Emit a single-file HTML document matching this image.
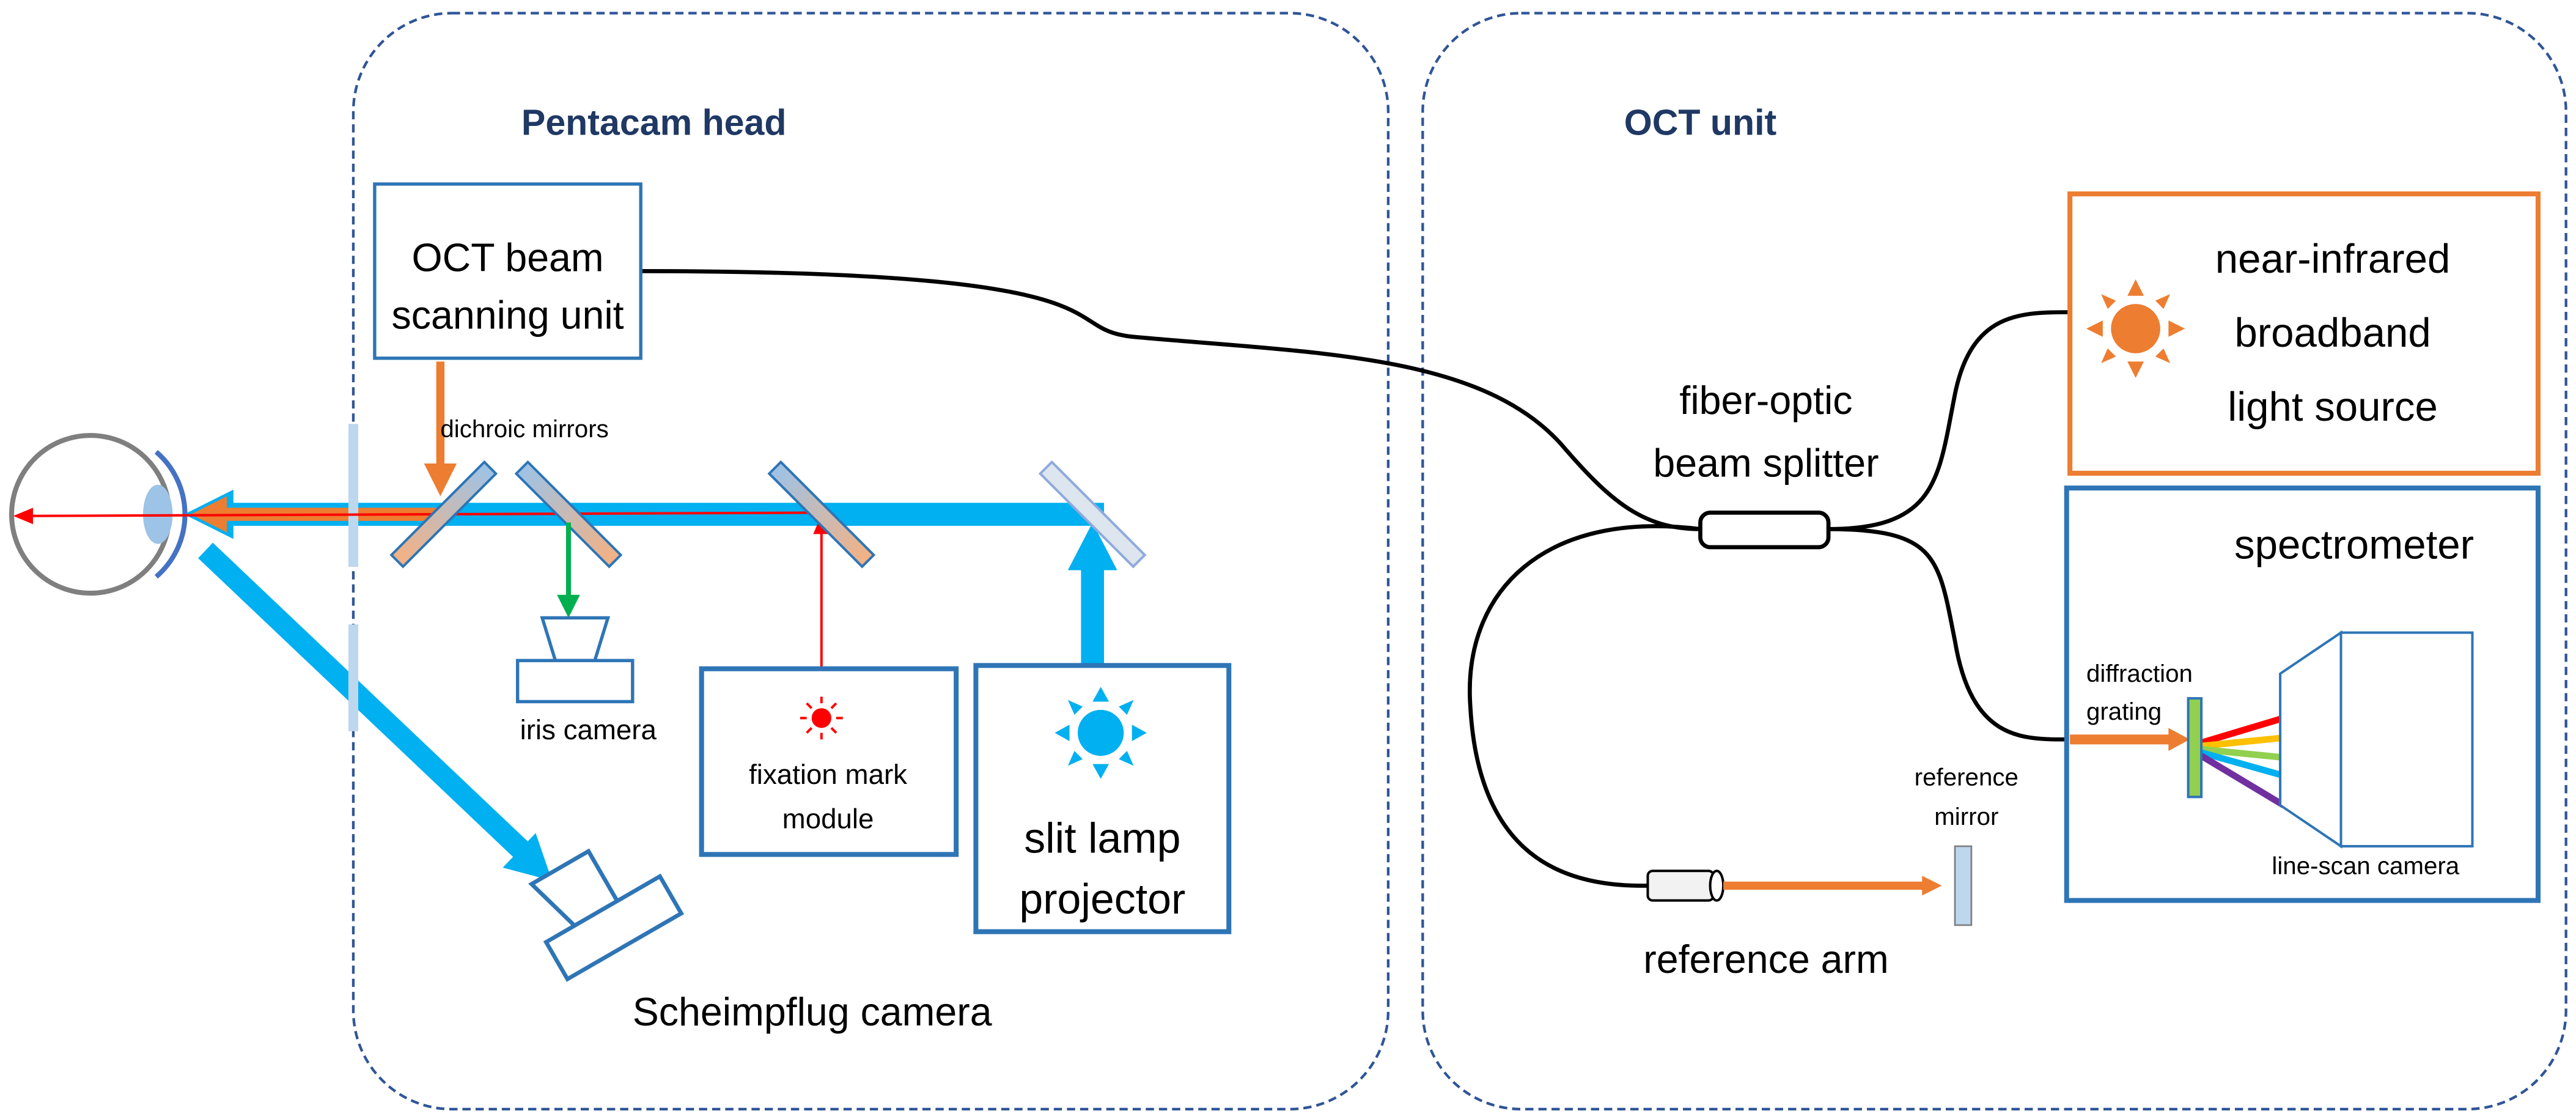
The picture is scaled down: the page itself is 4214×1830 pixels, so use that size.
<!DOCTYPE html>
<html><head><meta charset="utf-8"><style>html,body{margin:0;padding:0;background:#fff}svg{display:block}</style></head>
<body>
<svg width="4214" height="1830" viewBox="0 0 1568 681" xmlns="http://www.w3.org/2000/svg" font-family="Liberation Sans, sans-serif">
<defs>
<linearGradient id="dm" x1="0" y1="0" x2="1" y2="0"><stop offset="0" stop-color="#9DC3E6"/><stop offset="1" stop-color="#F4B183"/></linearGradient>
<linearGradient id="dm2" x1="0" y1="0" x2="1" y2="0"><stop offset="0" stop-color="#F4B183"/><stop offset="1" stop-color="#9DC3E6"/></linearGradient>
<marker id="ob" markerWidth="4" markerHeight="4" refX="2" refY="2" orient="auto" markerUnits="strokeWidth"><path d="M0,0 L4,2 L0,4z" fill="#ED7D31"/></marker>
</defs>
<rect x="215" y="8" width="630" height="667" rx="60" fill="none" stroke="#2F5597" stroke-width="1.6" stroke-dasharray="5,3"/>
<rect x="866" y="8" width="696" height="667" rx="60" fill="none" stroke="#2F5597" stroke-width="1.6" stroke-dasharray="5,3"/>
<text x="398" y="82" font-size="22" font-weight="bold" fill="#1F3864" text-anchor="middle">Pentacam head</text>
<text x="1035" y="82" font-size="22" font-weight="bold" fill="#1F3864" text-anchor="middle">OCT unit</text>

<g fill="none" stroke="#000" stroke-width="2.5">
<path d="M390,165 C700,165 640,200 690,205 C800,215 900,215 950,270 C980,305 1000,322 1035,322"/>
<path d="M1113,322 C1180,322 1180,290 1190,240 C1200,190 1230,190 1260,190"/>
<path d="M1113,322 C1180,322 1180,340 1190,390 C1200,450 1230,450 1258,450"/>
<path d="M1035,322 C940,310 890,360 895,430 C900,520 950,540 1003,539"/>
</g>
<rect x="1035" y="312" width="78" height="21" rx="6" fill="#fff" stroke="#000" stroke-width="2.5"/>
<text x="1075" y="252" font-size="24" text-anchor="middle">fiber-optic</text>
<text x="1075" y="290" font-size="24" text-anchor="middle">beam splitter</text>

<rect x="228" y="112" width="162" height="106" fill="#fff" stroke="#2E75B6" stroke-width="2"/>
<text x="309" y="165" font-size="24" text-anchor="middle">OCT beam</text>
<text x="309" y="200" font-size="24" text-anchor="middle">scanning unit</text>
<line x1="268" y1="220" x2="268" y2="292" stroke="#ED7D31" stroke-width="5" marker-end="url(#ob)"/>
<text x="268" y="266" font-size="15">dichroic mirrors</text>

<circle cx="55" cy="313" r="48" fill="#fff" stroke="#7F7F7F" stroke-width="3"/>
<path d="M95,275 A50,50 0 0 1 95,351" fill="none" stroke="#4472C4" stroke-width="3"/>
<ellipse cx="96" cy="313" rx="9" ry="18" fill="#9DC3E6"/>

<rect x="140" y="306" width="532" height="14" fill="#00B0F0"/>
<path d="M112,313 L142,298 L142,328z" fill="#00B0F0"/>
<rect x="135" y="309" width="135" height="8" fill="#ED7D31"/>
<path d="M116,313 L138,302 L138,324z" fill="#ED7D31"/>
<line x1="125" y1="335" x2="318" y2="518" stroke="#00B0F0" stroke-width="13"/>
<path d="M336,536 L306,528 L326,507z" fill="#00B0F0"/>
<rect x="658" y="345" width="14" height="62" fill="#00B0F0"/>
<path d="M665,318 L650,347 L680,347z" fill="#00B0F0"/>
<rect x="212" y="258" width="6" height="87" fill="#BDD7EE"/>
<rect x="212" y="380" width="6" height="65" fill="#BDD7EE"/>

<line x1="500" y1="312" x2="18" y2="314" stroke="#FF0000" stroke-width="1.5"/>
<path d="M8,314 L20,309 L20,319z" fill="#FF0000"/>
<line x1="500" y1="425" x2="500" y2="322" stroke="#FF0000" stroke-width="1.5"/>
<path d="M500,313 L495,325 L505,325z" fill="#FF0000"/>

<g stroke="#2E75B6" stroke-width="1.5">
<rect x="-40" y="-5" width="80" height="10" fill="url(#dm2)" transform="translate(270,313) rotate(-45)"/>
<rect x="-40" y="-5" width="80" height="10" fill="url(#dm)" transform="translate(346,313) rotate(45)"/>
<rect x="-40" y="-5" width="80" height="10" fill="url(#dm)" transform="translate(500,313) rotate(45)"/>
<rect x="-40" y="-5" width="80" height="10" fill="#DDE6EE" stroke="#8FAADC" transform="translate(665,313) rotate(45)"/>
</g>

<line x1="346" y1="318" x2="346" y2="365" stroke="#00B050" stroke-width="3"/>
<path d="M346,376 L339,362 L353,362z" fill="#00B050"/>
<path d="M330,376 L370,376 L362,402 L338,402z" fill="#fff" stroke="#2E75B6" stroke-width="2"/>
<rect x="315" y="402" width="70" height="25" fill="#fff" stroke="#2E75B6" stroke-width="2"/>
<text x="358" y="450" font-size="17" text-anchor="middle">iris camera</text>

<g transform="translate(372,562) rotate(-30)" fill="#fff" stroke="#2E75B6" stroke-width="2.5">
<path d="M-30,-45 L10,-45 L10,-10 L-20,-10z"/>
<rect x="-40" y="-10" width="80" height="26"/>
</g>
<text x="385" y="624" font-size="24">Scheimpflug camera</text>

<rect x="427" y="407" width="155" height="113" fill="#fff" stroke="#2E75B6" stroke-width="3"/>
<g transform="translate(500,437)" fill="#FF0000">
<circle r="6"/>
<g stroke="#FF0000" stroke-width="1.5"><line x1="0" y1="-9" x2="0" y2="-13"/><line x1="0" y1="9" x2="0" y2="13"/><line x1="-9" y1="0" x2="-13" y2="0"/><line x1="9" y1="0" x2="13" y2="0"/><line x1="6" y1="6" x2="9" y2="9"/><line x1="-6" y1="6" x2="-9" y2="9"/><line x1="6" y1="-6" x2="9" y2="-9"/><line x1="-6" y1="-6" x2="-9" y2="-9"/></g>
</g>
<text x="504" y="477" font-size="17" text-anchor="middle">fixation mark</text>
<text x="504" y="504" font-size="17" text-anchor="middle">module</text>

<rect x="594" y="405" width="154" height="162" fill="#fff" stroke="#2E75B6" stroke-width="3"/>
<g transform="translate(670,446)" fill="#00B0F0">
<circle r="14"/>
<path d="M0,-28 L-5,-19 L5,-19z M0,28 L-5,19 L5,19z M-28,0 L-19,-5 L-19,5z M28,0 L19,-5 L19,5z M20,-20 L11,-16 L16,-11z M-20,-20 L-11,-16 L-16,-11z M20,20 L11,16 L16,11z M-20,20 L-11,16 L-16,11z"/>
</g>
<text x="671" y="519" font-size="26" text-anchor="middle">slit lamp</text>
<text x="671" y="556" font-size="26" text-anchor="middle">projector</text>

<rect x="1260" y="118" width="285" height="170" fill="#fff" stroke="#ED7D31" stroke-width="3"/>
<g transform="translate(1300,200)" fill="#ED7D31">
<circle r="15"/>
<path d="M0,-30 L-5,-20 L5,-20z M0,30 L-5,20 L5,20z M-30,0 L-20,-5 L-20,5z M30,0 L20,-5 L20,5z M21,-21 L12,-17 L17,-12z M-21,-21 L-12,-17 L-17,-12z M21,21 L12,17 L17,12z M-21,21 L-12,17 L-17,12z"/>
</g>
<text x="1420" y="166" font-size="25" text-anchor="middle">near-infrared</text>
<text x="1420" y="211" font-size="25" text-anchor="middle">broadband</text>
<text x="1420" y="256" font-size="25" text-anchor="middle">light source</text>

<rect x="1258" y="297" width="287" height="251" fill="#fff" stroke="#2E75B6" stroke-width="3"/>
<text x="1433" y="340" font-size="25" text-anchor="middle">spectrometer</text>
<text x="1270" y="415" font-size="15">diffraction</text>
<text x="1270" y="438" font-size="15">grating</text>
<line x1="1260" y1="450" x2="1322" y2="450" stroke="#ED7D31" stroke-width="6"/>
<path d="M1333,450 L1320,443 L1320,457z" fill="#ED7D31"/>
<g stroke-width="4">
<line x1="1340" y1="452" x2="1390" y2="437" stroke="#FF0000"/>
<line x1="1340" y1="454" x2="1390" y2="449" stroke="#FFC000"/>
<line x1="1340" y1="456" x2="1390" y2="461" stroke="#92D050"/>
<line x1="1340" y1="458" x2="1390" y2="472" stroke="#00B0F0"/>
<line x1="1340" y1="460" x2="1390" y2="490" stroke="#7030A0"/>
</g>
<rect x="1332" y="425" width="8" height="60" fill="#92D050" stroke="#2E75B6" stroke-width="1.5"/>
<path d="M1388,410 L1425,385 L1425,515 L1388,490z" fill="#fff" stroke="#2E75B6" stroke-width="1.5"/>
<rect x="1425" y="385" width="80" height="130" fill="#fff" stroke="#2E75B6" stroke-width="1.5"/>
<text x="1440" y="532" font-size="15" text-anchor="middle">line-scan camera</text>

<rect x="1003" y="530" width="40" height="18" rx="3" fill="#F2F2F2" stroke="#000" stroke-width="1.5"/>
<ellipse cx="1045" cy="539" rx="4" ry="9" fill="#fff" stroke="#000" stroke-width="1.5"/>
<line x1="1049" y1="539" x2="1172" y2="539" stroke="#ED7D31" stroke-width="5"/>
<path d="M1182,539 L1170,533 L1170,545z" fill="#ED7D31"/>
<rect x="1190" y="515" width="10" height="48" fill="#BDD7EE" stroke="#7F7F7F" stroke-width="1"/>
<text x="1197" y="478" font-size="15" text-anchor="middle">reference</text>
<text x="1197" y="502" font-size="15" text-anchor="middle">mirror</text>
<text x="1075" y="592" font-size="24" text-anchor="middle">reference arm</text>
</svg>
</body></html>
